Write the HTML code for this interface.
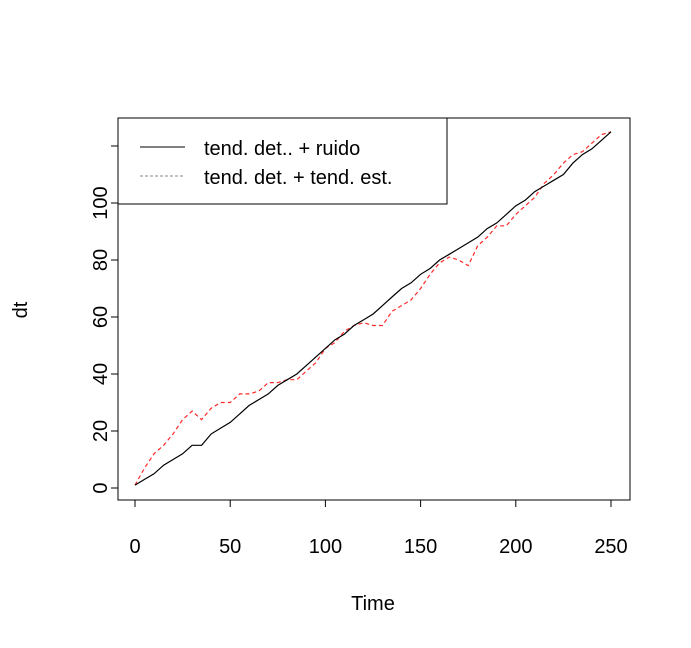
<!DOCTYPE html>
<html><head><meta charset="utf-8"><style>
body{margin:0;background:#fff}
svg{display:block;font-family:"Liberation Sans",Arial,sans-serif}
</style></head><body>
<svg id="chart" width="691" height="648">
<rect x="118" y="118" width="512" height="382" fill="none" stroke="#000" stroke-width="1"/>
<g id="axes"></g>
<g id="series"></g>
<text x="373" y="610" font-size="20" text-anchor="middle">Time</text>
<text x="0" y="0" font-size="20" text-anchor="middle" transform="translate(27,310) rotate(-90)">dt</text>
<g>
<rect x="118" y="118" width="329" height="86" fill="#fff" stroke="#000"/>
<line x1="140" y1="147" x2="185" y2="147" stroke="#000"/>
<line x1="140" y1="176" x2="185" y2="176" stroke="#888" stroke-dasharray="3,2"/>
<text x="204" y="155" font-size="20">tend. det.. + ruido</text>
<text x="204" y="184" font-size="20">tend. det. + tend. est.</text>
</g>
</svg>
<script>
const times=[0,5,10,15,20,25,30,35,40,45,50,55,60,65,70,75,80,85,90,95,100,105,110,115,120,125,130,135,140,145,150,155,160,165,170,175,180,185,190,195,200,205,210,215,220,225,230,235,240,245,250];
const ruido=[1,3,5,8,10,12,15,15,19,21,23,26,29,31,33,36,38,40,43,46,49,52,54,57,59,61,64,67,70,72,75,77,80,82,84,86,88,91,93,96,99,101,104,106,108,110,114,117,119,122,125];
const tendEst=[1,7,12,15,19,24,27,24,28,30,30,33,33,34,37,37,38,38,41,44,49,51,55,57,58,57,57,62,64,66,70,75,79,81,80,78,85,88,92,92,96,99,102,107,110,114,117,118,121,124,125];
const xTicks=[0,50,100,150,200,250];
const yTicks=[0,20,40,60,80,100,120];
const yLabels=["0","20","40","60","80","100",""];
const NS="http://www.w3.org/2000/svg";
const sx=t=>135+t*1.904;
const sy=v=>488-v*2.85;
const axes=document.getElementById('axes');
function mk(tag,attrs,parent){const e=document.createElementNS(NS,tag);for(const k in attrs)e.setAttribute(k,attrs[k]);parent.appendChild(e);return e;}
mk('line',{x1:sx(0),x2:sx(250),y1:500,y2:500,stroke:'#000'},axes);
xTicks.forEach(t=>{
  const l=mk('line',{x1:sx(t),x2:sx(t),y1:500,y2:507,stroke:'#000'},axes);
  
  
  const tx=mk('text',{x:sx(t),y:553,'font-size':20,'text-anchor':'middle'},axes);
  tx.textContent=t;
  
  
});
mk('line',{x1:118,x2:118,y1:sy(0),y2:sy(120),stroke:'#000'},axes);
yTicks.forEach((v,i)=>{
  const l=mk('line',{x1:111,x2:118,y1:sy(v),y2:sy(v),stroke:'#000'},axes);
  
  
  const tx=mk('text',{x:0,y:0,'font-size':20,'text-anchor':'middle',transform:`translate(107,${sy(v)}) rotate(-90)`},axes);
  tx.textContent=yLabels[i];
  
  
});
const ser=document.getElementById('series');
function pts(arr){return arr.map((v,i)=>sx(times[i]).toFixed(1)+','+sy(v).toFixed(1)).join(' ');}
const red=mk('polyline',{points:pts(tendEst),fill:'none',stroke:'#ff2a2a','stroke-width':1.2,'stroke-dasharray':'4,3'},ser);


const blk=mk('polyline',{points:pts(ruido),fill:'none',stroke:'#000','stroke-width':1.2},ser);


</script>
</body></html>
